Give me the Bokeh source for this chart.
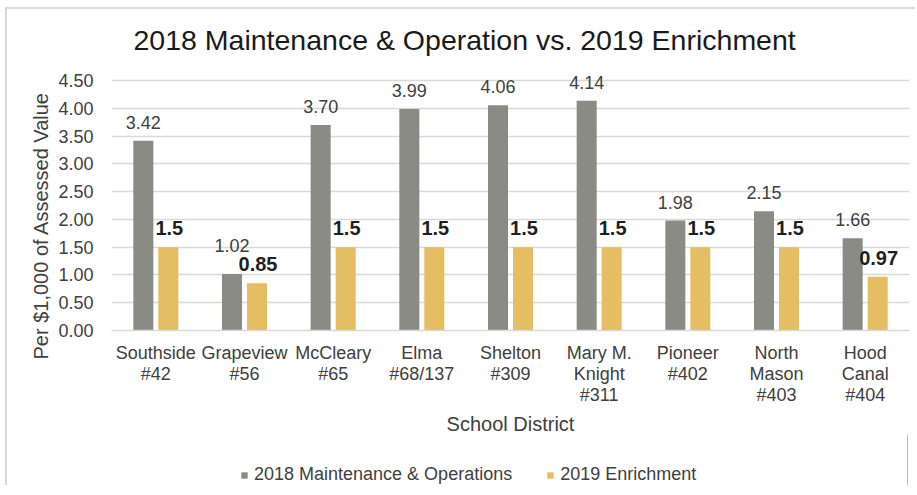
from bokeh.plotting import figure
from bokeh.models import ColumnDataSource, FactorRange, Legend, LegendItem, NumeralTickFormatter, FixedTicker, Title
from bokeh.layouts import column
from bokeh.transform import dodge
from bokeh.embed import file_html
from bokeh.resources import INLINE

districts = ["Southside\n#42", "Grapeview\n#56", "McCleary\n#65", "Elma\n#68/137", "Shelton\n#309",
             "Mary M.\nKnight\n#311", "Pioneer\n#402", "North\nMason\n#403", "Hood\nCanal\n#404"]
mo_2018 = [3.42, 1.02, 3.70, 3.99, 4.06, 4.14, 1.98, 2.15, 1.66]
enr_2019 = [1.5, 0.85, 1.5, 1.5, 1.5, 1.5, 1.5, 1.5, 0.97]
mo_labels = ["3.42", "1.02", "3.70", "3.99", "4.06", "4.14", "1.98", "2.15", "1.66"]
enr_labels = ["1.5", "0.85", "1.5", "1.5", "1.5", "1.5", "1.5", "1.5", "0.97"]
series_names = ["2018 Maintenance & Operations", "2019 Enrichment"]
y_ticks = [0, 0.5, 1.0, 1.5, 2.0, 2.5, 3.0, 3.5, 4.0, 4.5]

# label offsets in screen pixels (style only)
mo_label_off = [-12, -22, -12, -12, -12, -12, -12, -12, -12]

GRAY = "#8b8b85"
GOLD = "#e5bd63"
FONT = "Liberation Sans"

src = ColumnDataSource(dict(d=districts, mo=mo_2018, en=enr_2019,
                            mol=mo_labels, enl=enr_labels, off=mo_label_off))

p = figure(x_range=FactorRange(*districts), y_range=(0, 4.9),
           frame_width=796, frame_height=270,
           min_border_left=104, min_border_top=49, min_border_right=8, min_border_bottom=0,
           output_backend="svg", toolbar_location=None, title=None)
p.margin = (7, 0, 0, 5)
p.align = "start"
p.styles = {"border-left": "2px solid #d9d9d9", "border-top": "2px solid #d9d9d9"}

r1 = p.vbar(x=dodge("d", -0.141, range=p.x_range), top="mo", width=0.226, source=src,
            fill_color=GRAY, line_color=None)
r2 = p.vbar(x=dodge("d", 0.141, range=p.x_range), top="en", width=0.226, source=src,
            fill_color=GOLD, line_color=None)

p.text(x=dodge("d", -0.141, range=p.x_range), y="mo", text="mol", source=src,
       text_align="center", text_baseline="bottom", y_offset="off",
       text_font_size="18px", text_color="#404040", text_font={"value": FONT})
p.text(x=dodge("d", 0.152, range=p.x_range), y="en", text="enl", source=src,
       text_align="center", text_baseline="bottom", y_offset=-12,
       text_font_size="20px", text_font_style="bold", text_color="#1f1f1f", text_font={"value": FONT})

# Title
t = Title(text="2018 Maintenance & Operation vs. 2019 Enrichment", align="left", offset=22,
          text_font=FONT, text_font_size="28.5px", text_font_style="normal", text_color="#1a1a1a",
          standoff=6)
p.add_layout(t, "above")

p.yaxis.ticker = FixedTicker(ticks=y_ticks)
p.yaxis.formatter = NumeralTickFormatter(format="0.00")
p.yaxis.axis_line_color = None
p.yaxis.major_tick_line_color = None
p.yaxis.minor_tick_line_color = None
p.yaxis.major_label_text_font = FONT
p.yaxis.major_label_text_font_size = "18px"
p.yaxis.major_label_text_color = "#404040"
p.yaxis.major_label_standoff = 12

ylab = Title(text="Per $1,000 of Assessed Value", align="left", offset=-29,
             text_font=FONT, text_font_size="20px", text_font_style="normal", text_color="#404040",
             standoff=8)
p.add_layout(ylab, "left")

p.xaxis.axis_line_color = "#d9d9d9"
p.xaxis.axis_line_width = 1.5
p.xaxis.major_tick_line_color = None
p.xaxis.minor_tick_line_color = None
p.xaxis.major_label_text_font = FONT
p.xaxis.major_label_text_font_size = "18px"
p.xaxis.major_label_text_line_height = 1.05
p.xaxis.major_label_text_color = "#404040"
p.xaxis.major_label_standoff = 6
p.xaxis.axis_label = "School District"
p.xaxis.axis_label_text_font = FONT
p.xaxis.axis_label_text_font_size = "20px"
p.xaxis.axis_label_text_font_style = "normal"
p.xaxis.axis_label_text_color = "#404040"
p.xaxis.axis_label_standoff = 5

p.xgrid.grid_line_color = None
p.ygrid.grid_line_color = "#d9d9d9"
p.ygrid.grid_line_width = 1.5
p.outline_line_color = None
p.x_range.range_padding = 0
p.x_range.group_padding = 0

# Legend strip below the chart (same series styles); its bars fall outside its view
p2 = figure(width=908, height=50, min_border=0, x_range=(0, 1), y_range=(0, 1),
            output_backend="svg", toolbar_location=None, title=None,
            x_axis_type=None, y_axis_type=None)
p2.margin = (0, 0, 0, 5)
p2.align = "start"
p2.styles = {"border-left": "2px solid #d9d9d9"}
p2.grid.visible = False
p2.outline_line_color = None
l1 = p2.vbar(x="mo", top="mo", width=0.001, source=src, fill_color=GRAY, line_color=None)
l2 = p2.vbar(x="mo", top="en", width=0.001, source=src, fill_color=GOLD, line_color=None)

legend = Legend(items=[LegendItem(label=series_names[0], renderers=[l1]),
                       LegendItem(label=series_names[1], renderers=[l2])],
                orientation="horizontal", location=(129, 0),
                label_text_font=FONT, label_text_font_size="18px", label_text_color="#404040",
                glyph_width=8, glyph_height=8, spacing=34, label_standoff=6, padding=8,
                border_line_color=None, background_fill_alpha=0, margin=0)
p2.add_layout(legend, "center")

layout = column(p, p2, spacing=0)
open("out.html", "w").write(file_html(layout, INLINE))
